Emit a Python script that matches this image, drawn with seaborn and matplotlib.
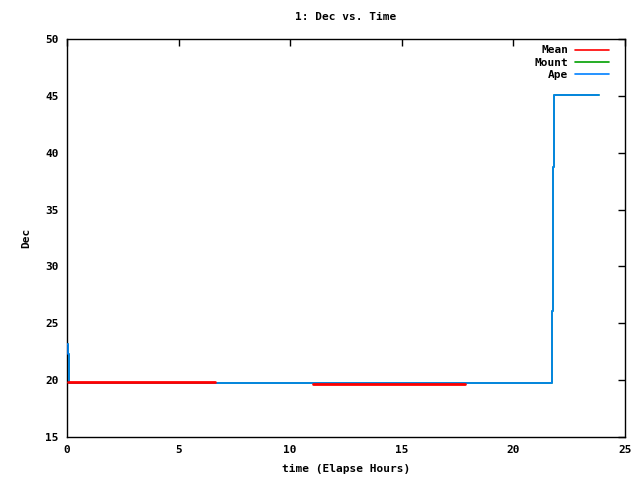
import matplotlib
matplotlib.use("Agg")
import matplotlib.pyplot as plt
import seaborn as sns
import pandas as pd

# Data
ape_t = [0.0, 0.03, 0.07, 0.10, 21.74, 21.79, 21.83, 23.82]
ape_dec = [23.15, 22.3, 20.6, 19.75, 26.1, 38.7, 45.05, 45.05]
mount_t = ape_t
mount_dec = ape_dec
mean1_t = [0.05, 6.63]
mean1_dec = [19.84, 19.84]
mean2_t = [11.03, 17.83]
mean2_dec = [19.68, 19.68]

sns.set_theme(style="white")
plt.rcParams['font.family'] = ['DejaVu Sans Mono']
plt.rcParams['font.weight'] = 'bold'
plt.rcParams['font.size'] = 8
plt.rcParams['text.color'] = 'black'
plt.rcParams['axes.labelcolor'] = 'black'

fig = plt.figure(figsize=(6.4, 4.8), dpi=100)
ax = fig.add_axes([67/640, 43/480, (625-67)/640, (437-39)/480])

m1 = pd.DataFrame({"t": mean1_t, "dec": mean1_dec})
m2 = pd.DataFrame({"t": mean2_t, "dec": mean2_dec})
mount_df = pd.DataFrame({"t": mount_t, "dec": mount_dec})
ape_df = pd.DataFrame({"t": ape_t, "dec": ape_dec})

sns.lineplot(data=m1, x="t", y="dec", estimator=None, color="#ff0000",
             lw=2, ax=ax, sort=False, label="Mean", zorder=4)
sns.lineplot(data=m2, x="t", y="dec", estimator=None, color="#ff0000",
             lw=2, ax=ax, sort=False, legend=False, zorder=4)
sns.lineplot(data=mount_df, x="t", y="dec", estimator=None, color="#00a000", lw=1.2,
             drawstyle="steps-post", ax=ax, sort=False, label="Mount", zorder=2)
sns.lineplot(data=ape_df, x="t", y="dec", estimator=None, color="#0080ff", lw=1.2,
             drawstyle="steps-post", ax=ax, sort=False, label="Ape", zorder=3)

ax.set_xlim(0, 25)
ax.set_ylim(15, 50)
ax.set_xticks([0, 5, 10, 15, 20, 25])
ax.set_yticks([15, 20, 25, 30, 35, 40, 45, 50])
ax.tick_params(direction="in", length=5, width=1, top=True, right=True,
               labelsize=8, colors="black", pad=6)
for s in ax.spines.values():
    s.set_color("black")
    s.set_linewidth(1)
ax.set_xlabel("time (Elapse Hours)", fontsize=8, fontweight="bold", labelpad=6, color="black")
ax.set_ylabel("Dec", fontsize=8, fontweight="bold", labelpad=10, color="black")
ax.set_title("1: Dec vs. Time", fontsize=8, fontweight="bold", pad=14, color="black")

handles, labels = ax.get_legend_handles_labels()
leg = ax.legend(handles, labels, loc="upper right", markerfirst=False, frameon=False,
                fontsize=8, handlelength=3.1, bbox_to_anchor=(0.98, 0.995),
                borderaxespad=0, labelspacing=0.2, handletextpad=0.6)
for h in leg.get_lines():
    h.set_linewidth(1.2)
for t in leg.get_texts():
    t.set_fontweight("bold")
    t.set_color("black")

fig.savefig("out.png", dpi=100)
